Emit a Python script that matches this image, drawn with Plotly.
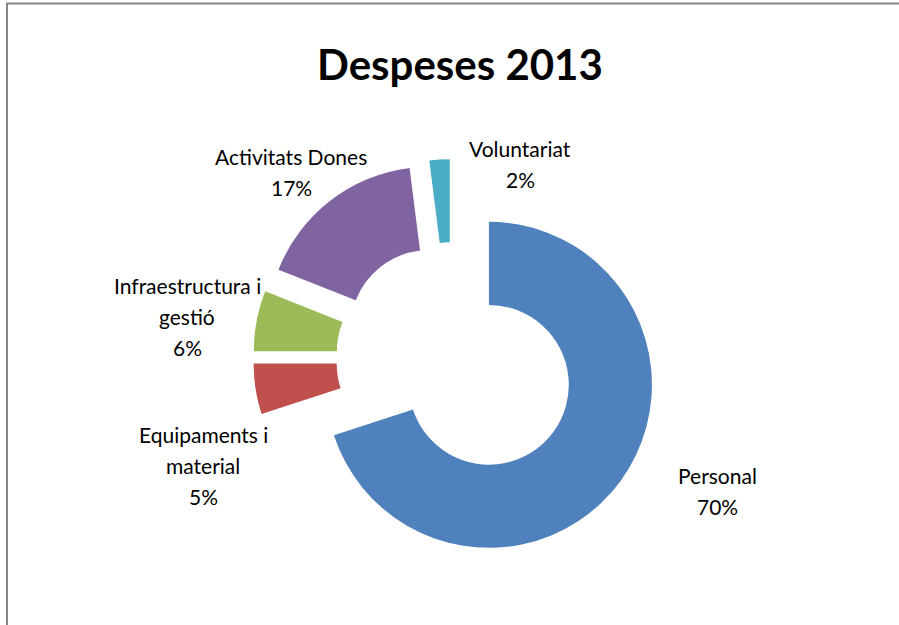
import plotly.graph_objects as go

# ---- data ----
categories = ["Personal", "Equipaments i material", "Infraestructura i gestió",
              "Activitats Dones", "Voluntariat"]
values = [70, 5, 6, 17, 2]
label_lines = [["Personal"], ["Equipaments i", "material"], ["Infraestructura i", "gestió"],
               ["Activitats Dones"], ["Voluntariat"]]
title_text = "Despeses 2013"

# ---- styling / layout (pixels) ----
W, H = 899, 625
colors = ["#4F81BD", "#C0504D", "#9BBB59", "#8064A2", "#4BACC6"]
pulls = [0.28, 0.22, 0.22, 0.22, 0.22]
center_px = (452, 358)
radius_px = 163
half_box = radius_px * (1 + max(pulls))
# label anchor: (x centre, y middle of first line) in pixels
label_pos = [(717, 475), (203, 434), (187, 285), (291, 156), (520, 148)]
line_gap = 31
FONT = "Lato"

def px_x(x):
    return x / W

def px_y(y):
    return 1 - y / H

fig = go.Figure(go.Pie(
    labels=categories,
    values=values,
    hole=0.49,
    pull=pulls,
    sort=False,
    direction="clockwise",
    rotation=0,
    marker=dict(colors=colors, line=dict(width=0)),
    textinfo="none",
    showlegend=False,
    domain=dict(x=[px_x(center_px[0] - half_box), px_x(center_px[0] + half_box)],
                y=[px_y(center_px[1] + half_box), px_y(center_px[1] - half_box)]),
))

total = sum(values)
annotations = []
for lines, v, (lx, ly) in zip(label_lines, values, label_pos):
    all_lines = lines + [f"{round(100 * v / total)}%"]
    for i, t in enumerate(all_lines):
        annotations.append(dict(
            text=t, x=px_x(lx), y=px_y(ly + i * line_gap), xref="paper", yref="paper",
            xanchor="center", yanchor="middle", showarrow=False,
            font=dict(family=FONT, size=21, color="#000000"),
        ))

annotations.append(dict(
    text=f"<b>{title_text}</b>", x=px_x(460), y=px_y(64), xref="paper", yref="paper",
    xanchor="center", yanchor="middle", showarrow=False,
    font=dict(family=FONT, size=42, color="#000000"),
))

fig.update_layout(
    width=W, height=H,
    margin=dict(l=0, r=0, t=0, b=0),
    paper_bgcolor="white", plot_bgcolor="white",
    annotations=annotations,
    shapes=[dict(type="rect", xref="paper", yref="paper",
                 x0=px_x(7), x1=1.05, y0=-0.05, y1=px_y(3.5),
                 line=dict(color="#868686", width=2), fillcolor="rgba(0,0,0,0)")],
)

fig.write_html("out.html", config={"displayModeBar": False},
               post_script="document.body.style.margin='0px';document.body.style.overflow='hidden';")
